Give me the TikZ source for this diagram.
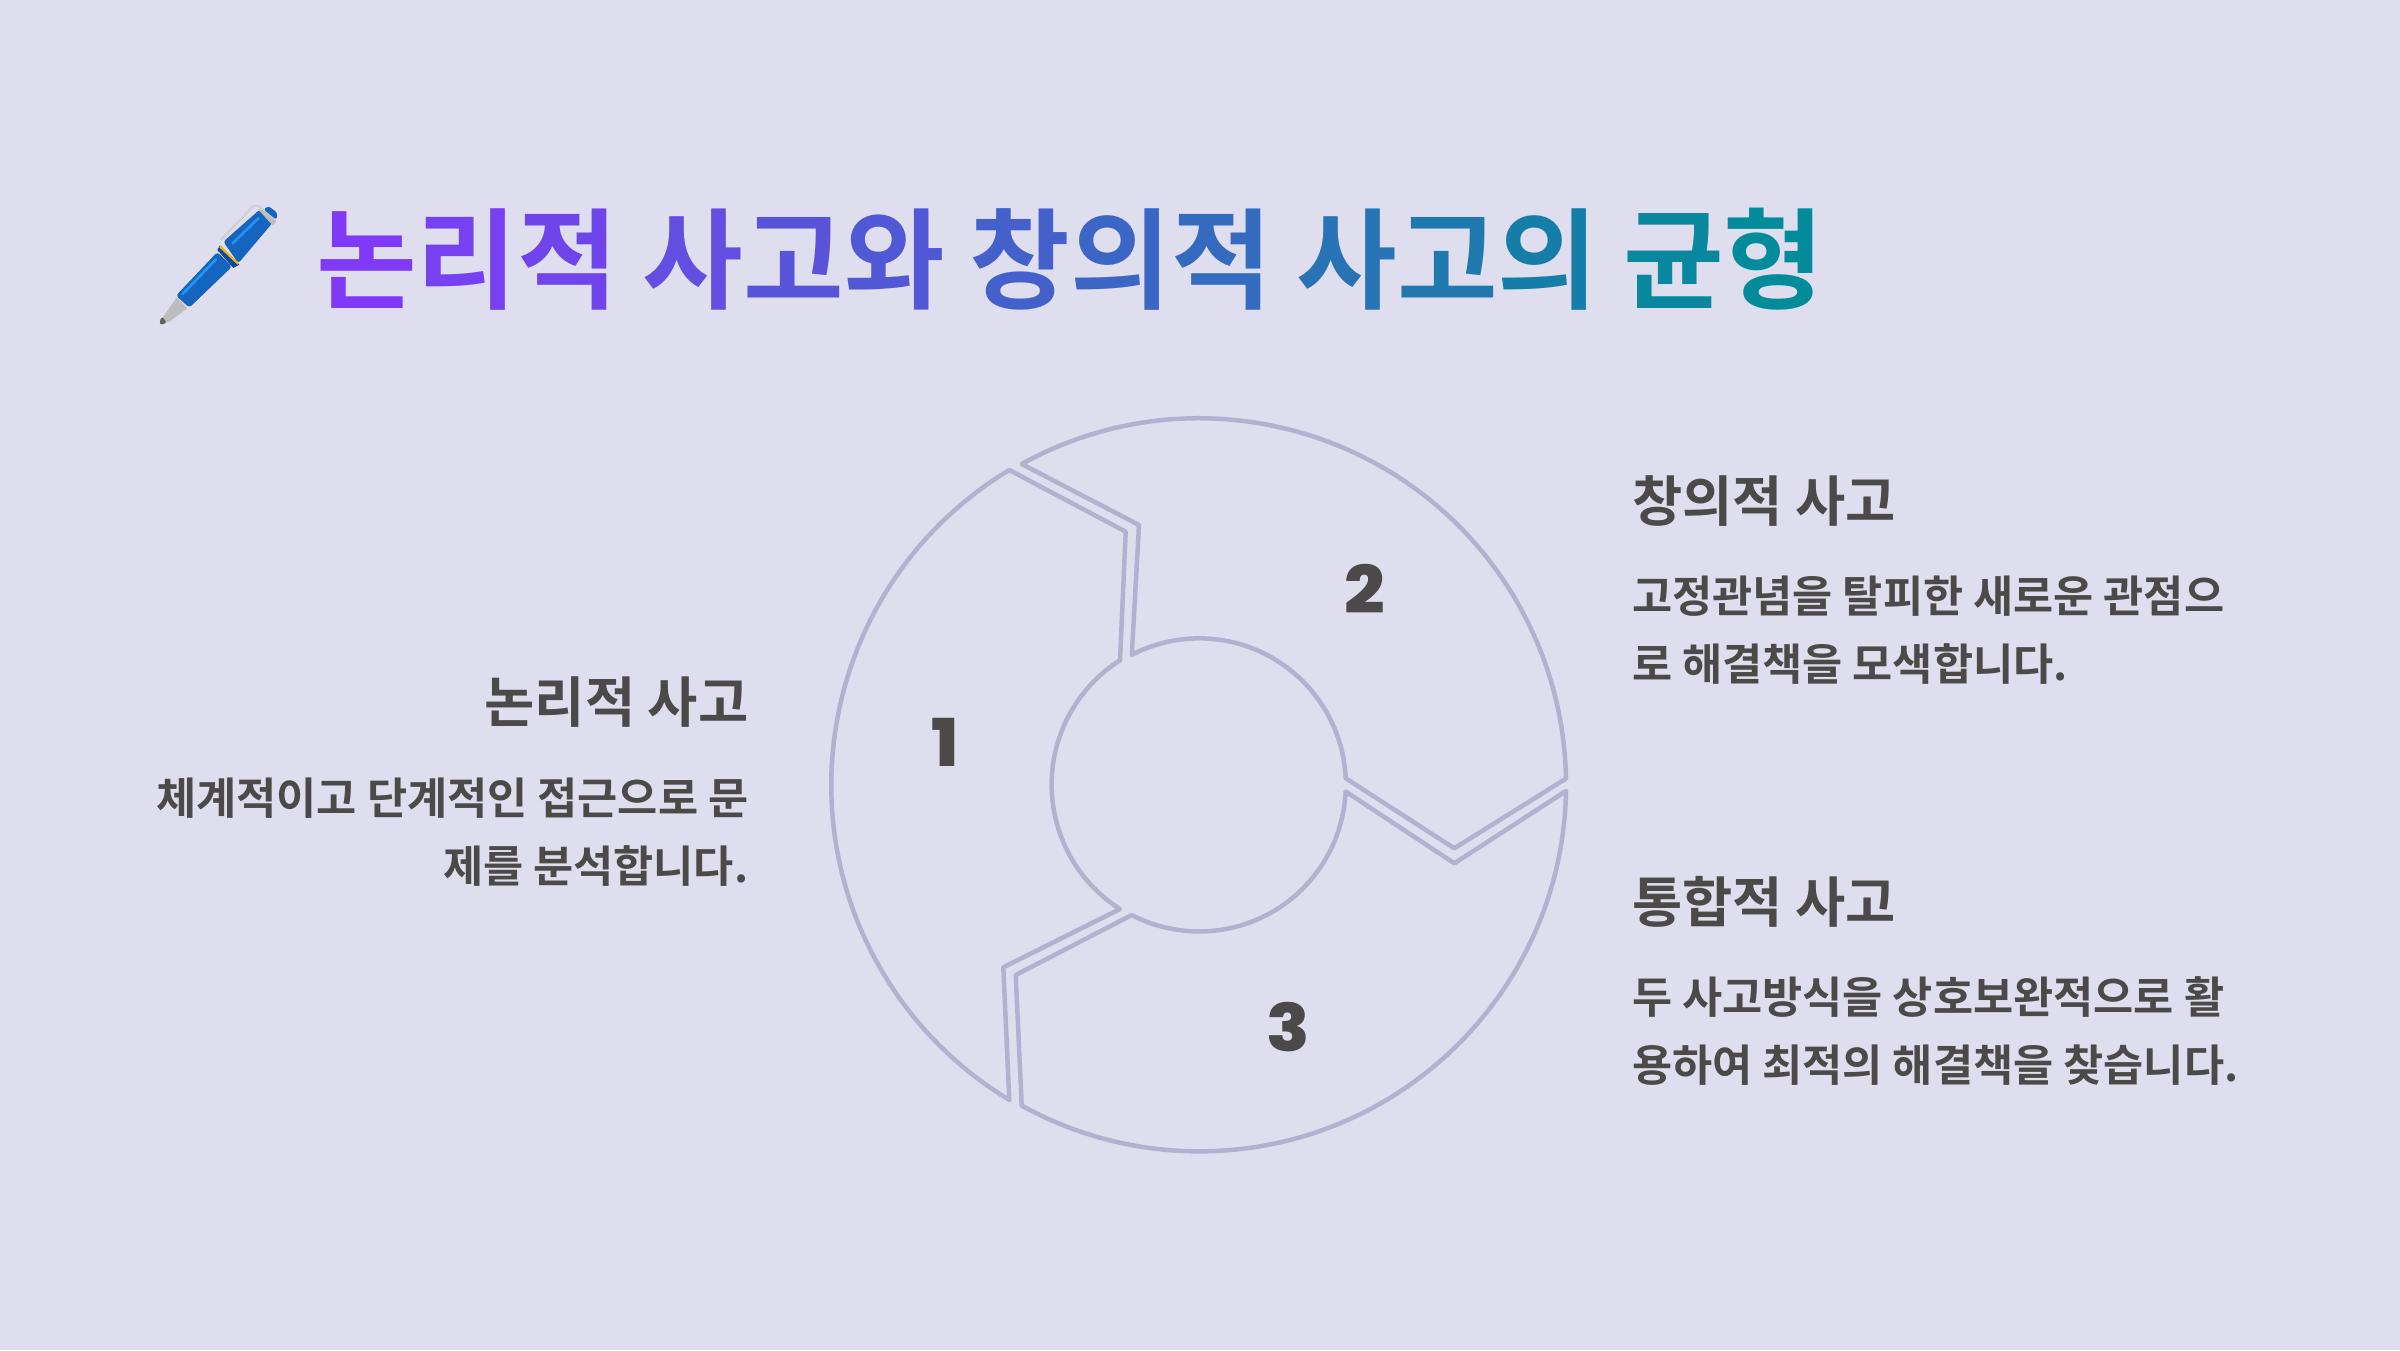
\documentclass[tikz,border=0pt]{standalone}
\usepackage{fontspec}
\setmainfont{Noto Sans CJK KR}
\newfontfamily\titlef{Noto Sans CJK KR Bold}
\newfontfamily\headf{Noto Sans CJK KR Bold}
\newfontfamily\bodyf{Noto Sans CJK KR Bold}
\newfontfamily\numf[FakeStretch=1.08]{Poppins ExtraBold}
\definecolor{bgc}{HTML}{DFDEEE}
\definecolor{ringc}{HTML}{B3B1CF}
\definecolor{textc}{HTML}{4C4949}
\definecolor{gA}{HTML}{8438FA}
\definecolor{gB}{HTML}{028B9A}
\definecolor{penGray}{HTML}{BDBDBD}
\definecolor{penClip}{HTML}{CFCFD6}
\definecolor{penTip}{HTML}{616161}
\definecolor{penBlue}{HTML}{1565C0}
\definecolor{penDark}{HTML}{0D47A1}
\definecolor{penGold}{HTML}{FFB300}
\definecolor{penLight}{HTML}{2196F3}
\newcommand{\gl}[2]{{\color{gB!#1!gA}#2}}
\tikzset{
  seg/.style={draw=ringc,line width=4.5pt,line join=round,line cap=round},
  head/.style={font=\headf\fontsize{54.6}{54.6}\selectfont,text=textc,inner sep=0pt},
  body/.style={font=\bodyf\fontsize{43.65}{68}\selectfont,text=textc,inner sep=0pt,align=left},
  num/.style={font=\numf\fontsize{66}{66}\selectfont,text=textc,inner sep=0pt}
}
\begin{document}
\begin{tikzpicture}[x=1pt,y=-1pt]
\useasboundingbox (0,0) rectangle (2400,1350);
\fill[bgc] (0,0) rectangle (2400,1350);
% ring (y axis points down, so arc angles are negated)
\draw[seg] (1009.3,470) arc[start angle=-121.06,end angle=-238.94,radius=367.7]
  -- (1003.3,967.3) -- (1120,909) arc[start angle=-237.6,end angle=-122.4,radius=147.3] -- (1125.7,531.7) -- cycle;
\draw[seg] (1021.7,464) arc[start angle=-118.9,end angle=-1.04,radius=367]
  -- (1454.3,848.3) -- (1345.7,778.3) arc[start angle=-2.6,end angle=-117.4,radius=146.6] -- (1139,525) -- cycle;
\draw[seg] (1566,791) arc[start angle=1.04,end angle=118.9,radius=367]
  -- (1015.7,975) -- (1131.7,915) arc[start angle=117.4,end angle=2.6,radius=146.6] -- (1454.3,863.3) -- cycle;
\node[num] (n1) at (945,742) {1};
\node[num] (n2) at (1365,588.5) {2};
\node[num] (n3) at (1288.5,1027.5) {3};
% pen emoji
\begin{scope}[shift={(130,170)},x=0.33333pt,y=-0.33333pt]
\fill[penGray] (140,382) -- (100,440) -- (90,462) -- (118,455) -- (172,415) -- cycle;
\fill[penTip,rounded corners=2pt] (97,440) -- (88,452) -- (92,465) -- (110,458) -- cycle;
\draw[line width=2.4pt,penClip,line join=round] (272,210) -- (370,108) -- (386,108) -- (436,150);
\fill[penBlue,rounded corners=3pt] (138,377) -- (262,246) -- (306,290) -- (178,413) -- cycle;
\fill[penBlue,rounded corners=3pt] (280,215) -- (390,118) -- (428,158) -- (325,280) -- cycle;
\fill[penDark] (262,240) -- (270,226) -- (328,284) -- (310,294) -- cycle;
\draw[line width=2pt,penGold] (270,230) -- (325,282);
\draw[line width=2.6pt,line cap=round,penLight] (158,372) -- (258,268);
\draw[line width=2.6pt,line cap=round,penLight] (308,220) -- (385,145);
\fill[penGray] (384,118) -- (395,118) -- (440,155) -- (428,166) -- cycle;
\fill[penBlue,rounded corners=3pt] (400,118) -- (415,108) -- (442,128) -- (440,150) -- cycle;
\end{scope}
% title
\node[anchor=base west,inner sep=0pt,font=\titlef\fontsize{109.4}{109.4}\selectfont] (title) at (316,300)
 {\gl{3}{논}\gl{10}{리}\gl{16}{적} \gl{26}{사}\gl{33}{고}\gl{39}{와} \gl{49}{창}\gl{55}{의}\gl{62}{적} \gl{71}{사}\gl{78}{고}\gl{85}{의} \gl{95}{균}\gl{100}{형}};
% left
\node[head,anchor=base east] (lh) at (748.5,722) {논리적 사고};
\node[body,anchor=base east] (lb1) at (748.5,814) {체계적이고 단계적인 접근으로 문};
\node[body,anchor=base east] (lb2) at (748.5,882) {제를 분석합니다.};
% right 1
\node[head,anchor=base west] (r1h) at (1632,521) {창의적 사고};
\node[body,anchor=base west] (r1b1) at (1632,612) {고정관념을 탈피한 새로운 관점으};
\node[body,anchor=base west] (r1b2) at (1632,680) {로 해결책을 모색합니다.};
% right 2
\node[head,anchor=base west] (r2h) at (1632,922) {통합적 사고};
\node[body,anchor=base west] (r2b1) at (1632,1013) {두 사고방식을 상호보완적으로 활};
\node[body,anchor=base west] (r2b2) at (1632,1081) {용하여 최적의 해결책을 찾습니다.};
\end{tikzpicture}
\end{document}
